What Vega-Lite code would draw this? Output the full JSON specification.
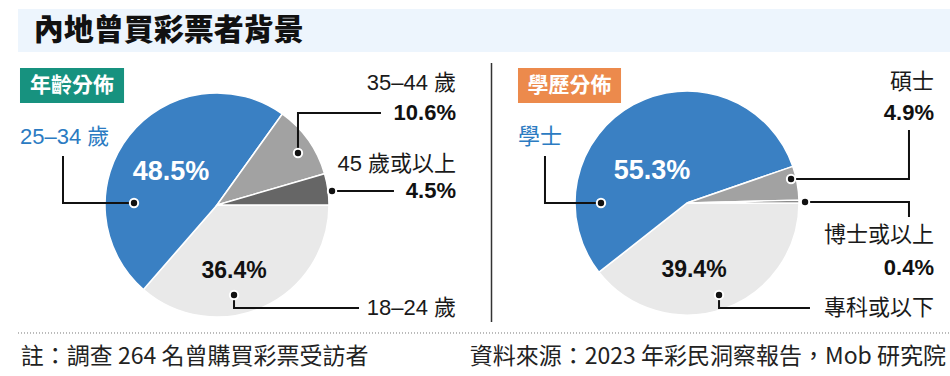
{
  "$schema": "https://vega.github.io/schema/vega-lite/v6.json",
  "background": "white",
  "padding": {"left": 17, "top": 9, "right": 0, "bottom": 0},
  "autosize": {"type": "pad"},
  "spacing": 0,
  "config": {"view": {"stroke": null}, "concat": {"spacing": 0}},
  "datasets": {
    "age": [
      {"group": "18–24 歲", "share": 36.4, "rank": 1},
      {"group": "25–34 歲", "share": 48.5, "rank": 2},
      {"group": "35–44 歲", "share": 10.6, "rank": 3},
      {"group": "45 歲或以上", "share": 4.5, "rank": 4}
    ],
    "edu": [
      {"group": "專科或以下", "share": 39.4, "rank": 1},
      {"group": "學士", "share": 55.3, "rank": 2},
      {"group": "碩士", "share": 4.9, "rank": 3},
      {"group": "博士或以上", "share": 0.4, "rank": 4}
    ],
    "ageBadge": [{"label": "年齡分佈", "x": -1.759, "x2": -0.83, "y": 0.911, "y2": 1.223, "tx": -1.295, "ty": 1.0625}],
    "eduBadge": [{"label": "學歷分佈", "x": -1.509, "x2": -0.589, "y": 0.893, "y2": 1.205, "tx": -1.049, "ty": 1.045}],
    "ageLeaders": [
      {"id": "25–34 歲", "step": 1, "x": -1.375, "y": 0.4375},
      {"id": "25–34 歲", "step": 2, "x": -1.375, "y": 0.018},
      {"id": "25–34 歲", "step": 3, "x": -0.741, "y": 0.018},
      {"id": "35–44 歲", "step": 1, "x": 0.723, "y": 0.464},
      {"id": "35–44 歲", "step": 2, "x": 0.723, "y": 0.821},
      {"id": "35–44 歲", "step": 3, "x": 1.464, "y": 0.821},
      {"id": "45 歲或以上", "step": 1, "x": 1.027, "y": 0.125},
      {"id": "45 歲或以上", "step": 2, "x": 1.58, "y": 0.125},
      {"id": "18–24 歲", "step": 1, "x": 0.152, "y": -0.804},
      {"id": "18–24 歲", "step": 2, "x": 0.152, "y": -0.92},
      {"id": "18–24 歲", "step": 3, "x": 1.268, "y": -0.92}
    ],
    "ageDots": [
      {"id": "25–34 歲", "x": -0.741, "y": 0.018},
      {"id": "35–44 歲", "x": 0.723, "y": 0.464},
      {"id": "45 歲或以上", "x": 1.027, "y": 0.125},
      {"id": "18–24 歲", "x": 0.152, "y": -0.804}
    ],
    "ageText": [
      {"role": "inside", "label": "48.5%", "x": -0.411, "y": 0.295},
      {"role": "insideDark", "label": "36.4%", "x": 0.152, "y": -0.589},
      {"role": "lead", "label": "25–34 歲", "x": -1.759, "y": 0.607},
      {"role": "category", "label": "35–44 歲", "x": 2.134, "y": 1.089},
      {"role": "category", "label": "45 歲或以上", "x": 2.134, "y": 0.366},
      {"role": "category", "label": "18–24 歲", "x": 2.134, "y": -0.92},
      {"role": "share", "label": "10.6%", "x": 2.134, "y": 0.821},
      {"role": "share", "label": "4.5%", "x": 2.134, "y": 0.125}
    ],
    "eduLeaders": [
      {"id": "學士", "step": 1, "x": -1.268, "y": 0.42},
      {"id": "學士", "step": 2, "x": -1.268, "y": 0.0},
      {"id": "學士", "step": 3, "x": -0.768, "y": 0.0},
      {"id": "碩士", "step": 1, "x": 0.929, "y": 0.214},
      {"id": "碩士", "step": 2, "x": 1.982, "y": 0.214},
      {"id": "碩士", "step": 3, "x": 1.982, "y": 0.652},
      {"id": "博士或以上", "step": 1, "x": 1.054, "y": 0.009},
      {"id": "博士或以上", "step": 2, "x": 1.982, "y": 0.009},
      {"id": "博士或以上", "step": 3, "x": 1.982, "y": -0.125},
      {"id": "專科或以下", "step": 1, "x": 0.286, "y": -0.821},
      {"id": "專科或以下", "step": 2, "x": 0.286, "y": -0.9375},
      {"id": "專科或以下", "step": 3, "x": 1.098, "y": -0.9375}
    ],
    "eduDots": [
      {"id": "學士", "x": -0.768, "y": 0.0},
      {"id": "碩士", "x": 0.929, "y": 0.214},
      {"id": "博士或以上", "x": 1.054, "y": 0.009},
      {"id": "專科或以下", "x": 0.286, "y": -0.821}
    ],
    "eduText": [
      {"role": "inside", "label": "55.3%", "x": -0.3125, "y": 0.286},
      {"role": "insideDark", "label": "39.4%", "x": 0.0625, "y": -0.598},
      {"role": "lead", "label": "學士", "x": -1.509, "y": 0.589},
      {"role": "category", "label": "碩士", "x": 2.205, "y": 1.08},
      {"role": "category", "label": "博士或以上", "x": 2.205, "y": -0.286},
      {"role": "category", "label": "專科或以下", "x": 2.205, "y": -0.9375},
      {"role": "share", "label": "4.9%", "x": 2.205, "y": 0.804},
      {"role": "share", "label": "0.4%", "x": 2.205, "y": -0.58}
    ],
    "divider": [{"x": -1.7455, "y": -1.0625, "y2": 1.25}]
  },
  "vconcat": [
    {
      "width": 933,
      "height": 43,
      "view": {"fill": "#edf5fd", "stroke": null},
      "data": {"values": [{"label": "內地曾買彩票者背景"}]},
      "mark": {"type": "text", "align": "left", "baseline": "middle", "font": "Noto Sans CJK TC", "fontSize": 30, "fontWeight": 900, "color": "#111111"},
      "encoding": {
        "text": {"field": "label"},
        "x": {"datum": 0.017, "type": "quantitative", "scale": {"domain": [0, 1], "nice": false}, "axis": null},
        "y": {"datum": 0.5, "type": "quantitative", "scale": {"domain": [0, 1], "nice": false}, "axis": null}
      }
    },
    {
      "hconcat": [
        {
          "width": 472,
          "height": 278,
          "layer": [
            {
              "data": {"name": "age"},
              "mark": {"type": "arc", "radius": 112, "stroke": "white", "strokeWidth": 1.5},
              "encoding": {
                "x": {"datum": 0, "type": "quantitative", "scale": {"domain": [-1.7768, 2.4375], "nice": false, "zero": false}, "axis": null},
                "y": {"datum": 0, "type": "quantitative", "scale": {"domain": [-1.1161, 1.3661], "nice": false, "zero": false}, "axis": null},
                "theta": {"field": "share", "type": "quantitative", "stack": true, "scale": {"range": [1.5708, 7.854]}},
                "color": {"field": "group", "type": "nominal", "scale": {"domain": ["18–24 歲", "25–34 歲", "35–44 歲", "45 歲或以上"], "range": ["#e9e9e9", "#3a80c3", "#a2a2a2", "#666666"]}, "legend": null},
                "order": {"field": "rank", "type": "quantitative"}
              }
            },
            {
              "encoding": {
                "x": {"field": "x", "type": "quantitative", "scale": {"domain": [-1.7768, 2.4375], "nice": false, "zero": false}, "axis": null},
                "y": {"field": "y", "type": "quantitative", "scale": {"domain": [-1.1161, 1.3661], "nice": false, "zero": false}, "axis": null}
              },
              "layer": [
                {
                  "data": {"name": "ageBadge"},
                  "mark": {"type": "rect", "fill": "#17927f"},
                  "encoding": {"x2": {"field": "x2"}, "y2": {"field": "y2"}}
                },
                {
                  "data": {"name": "ageBadge"},
                  "mark": {"type": "text", "align": "center", "baseline": "middle", "font": "Noto Sans CJK TC", "fontSize": 21, "fontWeight": "bold", "color": "white"},
                  "encoding": {
                    "text": {"field": "label"},
                    "x": {"field": "tx", "type": "quantitative"},
                    "y": {"field": "ty", "type": "quantitative"}
                  }
                },
                {
                  "data": {"name": "ageLeaders"},
                  "mark": {"type": "line", "color": "#111111", "strokeWidth": 2, "strokeJoin": "miter", "strokeCap": "butt"},
                  "encoding": {"detail": {"field": "id"}, "order": {"field": "step", "type": "quantitative"}}
                },
                {
                  "data": {"name": "ageDots"},
                  "mark": {"type": "point", "shape": "circle", "filled": true, "fill": "#111111", "stroke": "white", "strokeWidth": 2, "size": 70, "opacity": 1}
                },
                {
                  "data": {"name": "ageText"},
                  "transform": [{"filter": "datum.role === 'inside'"}],
                  "mark": {"type": "text", "align": "center", "baseline": "middle", "font": "Liberation Sans", "fontSize": 27, "fontWeight": "bold", "color": "white"},
                  "encoding": {"text": {"field": "label"}}
                },
                {
                  "data": {"name": "ageText"},
                  "transform": [{"filter": "datum.role === 'insideDark'"}],
                  "mark": {"type": "text", "align": "center", "baseline": "middle", "font": "Liberation Sans", "fontSize": 23, "fontWeight": "bold", "color": "#111111"},
                  "encoding": {"text": {"field": "label"}}
                },
                {
                  "data": {"name": "ageText"},
                  "transform": [{"filter": "datum.role === 'lead'"}],
                  "mark": {"type": "text", "align": "left", "baseline": "middle", "font": "Liberation Sans, Noto Sans CJK TC", "fontSize": 22, "color": "#2b7bc2"},
                  "encoding": {"text": {"field": "label"}}
                },
                {
                  "data": {"name": "ageText"},
                  "transform": [{"filter": "datum.role === 'category'"}],
                  "mark": {"type": "text", "align": "right", "baseline": "middle", "font": "Liberation Sans, Noto Sans CJK TC", "fontSize": 22, "color": "#1a1a1a"},
                  "encoding": {"text": {"field": "label"}}
                },
                {
                  "data": {"name": "ageText"},
                  "transform": [{"filter": "datum.role === 'share'"}],
                  "mark": {"type": "text", "align": "right", "baseline": "middle", "font": "Liberation Sans", "fontSize": 22, "fontWeight": "bold", "color": "#111111"},
                  "encoding": {"text": {"field": "label"}}
                }
              ]
            }
          ]
        },
        {
          "width": 461,
          "height": 278,
          "layer": [
            {
              "data": {"name": "edu"},
              "mark": {"type": "arc", "radius": 112, "stroke": "white", "strokeWidth": 1.5},
              "encoding": {
                "x": {"datum": 0, "type": "quantitative", "scale": {"domain": [-1.75, 2.3661], "nice": false, "zero": false}, "axis": null},
                "y": {"datum": 0, "type": "quantitative", "scale": {"domain": [-1.1339, 1.3482], "nice": false, "zero": false}, "axis": null},
                "theta": {"field": "share", "type": "quantitative", "stack": true, "scale": {"range": [1.5708, 7.854]}},
                "color": {"field": "group", "type": "nominal", "scale": {"domain": ["專科或以下", "學士", "碩士", "博士或以上"], "range": ["#e9e9e9", "#3a80c3", "#a2a2a2", "#666666"]}, "legend": null},
                "order": {"field": "rank", "type": "quantitative"}
              }
            },
            {
              "encoding": {
                "x": {"field": "x", "type": "quantitative", "scale": {"domain": [-1.75, 2.3661], "nice": false, "zero": false}, "axis": null},
                "y": {"field": "y", "type": "quantitative", "scale": {"domain": [-1.1339, 1.3482], "nice": false, "zero": false}, "axis": null}
              },
              "layer": [
                {
                  "data": {"name": "divider"},
                  "mark": {"type": "rule", "color": "#333333", "strokeWidth": 1.5},
                  "encoding": {"y2": {"field": "y2"}}
                },
                {
                  "data": {"name": "eduBadge"},
                  "mark": {"type": "rect", "fill": "#ec8a4c"},
                  "encoding": {"x2": {"field": "x2"}, "y2": {"field": "y2"}}
                },
                {
                  "data": {"name": "eduBadge"},
                  "mark": {"type": "text", "align": "center", "baseline": "middle", "font": "Noto Sans CJK TC", "fontSize": 21, "fontWeight": "bold", "color": "white"},
                  "encoding": {
                    "text": {"field": "label"},
                    "x": {"field": "tx", "type": "quantitative"},
                    "y": {"field": "ty", "type": "quantitative"}
                  }
                },
                {
                  "data": {"name": "eduLeaders"},
                  "mark": {"type": "line", "color": "#111111", "strokeWidth": 2, "strokeJoin": "miter", "strokeCap": "butt"},
                  "encoding": {"detail": {"field": "id"}, "order": {"field": "step", "type": "quantitative"}}
                },
                {
                  "data": {"name": "eduDots"},
                  "mark": {"type": "point", "shape": "circle", "filled": true, "fill": "#111111", "stroke": "white", "strokeWidth": 2, "size": 70, "opacity": 1}
                },
                {
                  "data": {"name": "eduText"},
                  "transform": [{"filter": "datum.role === 'inside'"}],
                  "mark": {"type": "text", "align": "center", "baseline": "middle", "font": "Liberation Sans", "fontSize": 27, "fontWeight": "bold", "color": "white"},
                  "encoding": {"text": {"field": "label"}}
                },
                {
                  "data": {"name": "eduText"},
                  "transform": [{"filter": "datum.role === 'insideDark'"}],
                  "mark": {"type": "text", "align": "center", "baseline": "middle", "font": "Liberation Sans", "fontSize": 23, "fontWeight": "bold", "color": "#111111"},
                  "encoding": {"text": {"field": "label"}}
                },
                {
                  "data": {"name": "eduText"},
                  "transform": [{"filter": "datum.role === 'lead'"}],
                  "mark": {"type": "text", "align": "left", "baseline": "middle", "font": "Liberation Sans, Noto Sans CJK TC", "fontSize": 22, "color": "#2b7bc2"},
                  "encoding": {"text": {"field": "label"}}
                },
                {
                  "data": {"name": "eduText"},
                  "transform": [{"filter": "datum.role === 'category'"}],
                  "mark": {"type": "text", "align": "right", "baseline": "middle", "font": "Liberation Sans, Noto Sans CJK TC", "fontSize": 22, "color": "#1a1a1a"},
                  "encoding": {"text": {"field": "label"}}
                },
                {
                  "data": {"name": "eduText"},
                  "transform": [{"filter": "datum.role === 'share'"}],
                  "mark": {"type": "text", "align": "right", "baseline": "middle", "font": "Liberation Sans", "fontSize": 22, "fontWeight": "bold", "color": "#111111"},
                  "encoding": {"text": {"field": "label"}}
                }
              ]
            }
          ]
        }
      ]
    },
    {
      "width": 933,
      "height": 46,
      "encoding": {
        "x": {"field": "x", "type": "quantitative", "scale": {"domain": [0, 1], "nice": false, "zero": false}, "axis": null},
        "y": {"field": "y", "type": "quantitative", "scale": {"domain": [0, 1], "nice": false, "zero": false}, "axis": null}
      },
      "layer": [
        {
          "data": {"values": [{"x": 0, "x2": 1, "y": 0.935}]},
          "mark": {"type": "rule", "color": "#777777", "strokeWidth": 1, "strokeDash": [1, 2]},
          "encoding": {"x2": {"field": "x2"}}
        },
        {
          "data": {"values": [{"label": "註：調查 264 名曾購買彩票受訪者", "x": 0.003, "y": 0.413}]},
          "mark": {"type": "text", "align": "left", "baseline": "middle", "font": "Noto Sans CJK TC", "fontSize": 23, "color": "#222222"},
          "encoding": {"text": {"field": "label"}}
        },
        {
          "data": {"values": [{"label": "資料來源：2023 年彩民洞察報告，Mob 研究院", "x": 0.9946, "y": 0.413}]},
          "mark": {"type": "text", "align": "right", "baseline": "middle", "font": "Noto Sans CJK TC", "fontSize": 23, "color": "#222222"},
          "encoding": {"text": {"field": "label"}}
        }
      ]
    }
  ]
}
